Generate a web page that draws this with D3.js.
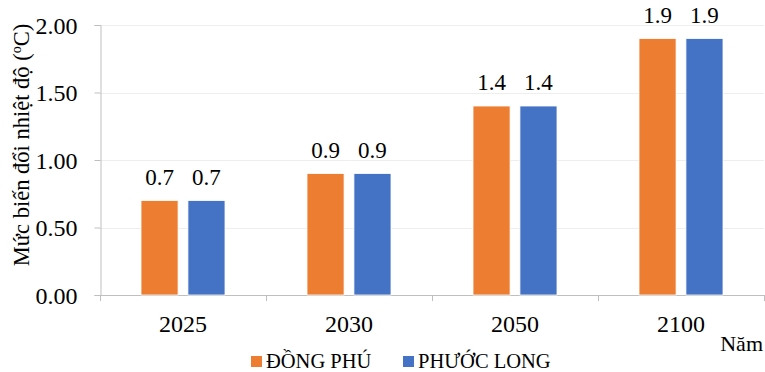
<!DOCTYPE html>
<html><head><meta charset="utf-8">
<script src="https://cdn.jsdelivr.net/npm/d3@7"></script>
<style>body{margin:0;background:#fff}svg{display:block}text{font-family:'Liberation Serif';fill:#000}</style>
</head><body><svg id="c" width="765" height="372"></svg>
<script>
const categories = ["2025","2030","2050","2100"];
const seriesNames = ["ĐỒNG PHÚ","PHƯỚC LONG"];
const dongPhu = [0.7,0.9,1.4,1.9];
const phuocLong = [0.7,0.9,1.4,1.9];
const yTicks = [0,0.5,1,1.5,2];
const colors = ["#ED7D31","#4472C4"];
const series = [dongPhu, phuocLong];
const FONT = "'Liberation Serif'";

const svg = d3.select("#c");
const m = {l:100, r:1, t:25, b:77};
const W = 765, H = 372;
const x = d3.scaleBand().domain(categories).range([m.l, W-m.r]);
const x1 = d3.scaleBand().domain(seriesNames).range([0, 84]).paddingInner(0.21);
const y = d3.scaleLinear().domain([0,2]).range([H-m.b, m.t]);

// gridlines
svg.append("g").selectAll("line").data(yTicks.filter(d=>d>0)).join("line")
  .attr("x1", m.l).attr("x2", W-m.r).attr("y1", d=>Math.round(y(d))+0.5).attr("y2", d=>Math.round(y(d))+0.5)
  .attr("stroke", "#eeeeee").attr("stroke-width",1);

// y axis
const ya = svg.append("g").attr("transform",`translate(${m.l+0.5},0)`)
  .call(d3.axisLeft(y).tickValues(yTicks).tickFormat(d3.format(".2f")).tickSize(6).tickPadding(17));
ya.attr("font-family", null);
ya.select(".domain").attr("stroke","#bfbfbf");
ya.selectAll(".tick line").attr("stroke","#bfbfbf");
ya.selectAll(".tick text").attr("font-size",24).style("font-family",FONT).attr("dy","0.34em");

// x axis
const xa = svg.append("g").attr("transform",`translate(0,${y(0)+0.5})`)
  .call(d3.axisBottom(x).tickSize(0).tickPadding(0));
xa.attr("font-family", null);
xa.select(".domain").attr("stroke","#bfbfbf").attr("d",`M${m.l},0H${W-m.r}`);
xa.selectAll(".tick text").attr("font-size",24).style("font-family",FONT).attr("y",36).attr("dy",0);
// category separator ticks
const seps = [m.l].concat(categories.slice(1).map(c=>x(c))).concat([W-m.r]);
svg.append("g").selectAll("line").data(seps).join("line")
  .attr("x1",d=>Math.round(d)+0.5).attr("x2",d=>Math.round(d)+0.5)
  .attr("y1", y(0)).attr("y2", y(0)+6).attr("stroke","#bfbfbf");

// bars
const off = (x.bandwidth()-84)/2;
categories.forEach((c,i)=>{
  series.forEach((s,j)=>{
    const bx = x(c)+off+x1(seriesNames[j]);
    svg.append("rect").attr("x",bx).attr("y",y(s[i])).attr("width",x1.bandwidth())
      .attr("height",y(0)-y(s[i])).attr("fill",colors[j]).attr("stroke","#fff").attr("stroke-width",0.8);
    svg.append("text").attr("x",bx+x1.bandwidth()/2).attr("y",y(s[i])-16)
      .attr("text-anchor","middle").attr("font-size",23).style("font-family",FONT).text(d3.format(".1f")(s[i]));
  });
});

// y title
const yt = svg.append("text").attr("transform",`translate(29,${(y(0)+y(2))/2-15}) rotate(-90)`)
  .attr("text-anchor","middle").attr("font-size",22.5).style("font-family",FONT);
yt.append("tspan").text("Mức biến đổi nhiệt độ (");
yt.append("tspan").attr("font-size",14).attr("dy",-8).text("o");
yt.append("tspan").attr("dy",8).text("C)");

// x title
svg.append("text").attr("x",763).attr("y",351).attr("text-anchor","end").attr("font-size",22).style("font-family",FONT).text("Năm");

// legend
const leg = [{x:251,tx:266},{x:403,tx:418}];
seriesNames.forEach((n,j)=>{
  svg.append("rect").attr("x",leg[j].x).attr("y",356).attr("width",11).attr("height",11).attr("fill",colors[j]);
  svg.append("text").attr("x",leg[j].tx).attr("y",368).attr("font-size",20.5).style("font-family",FONT).text(n);
});
</script></body></html>
